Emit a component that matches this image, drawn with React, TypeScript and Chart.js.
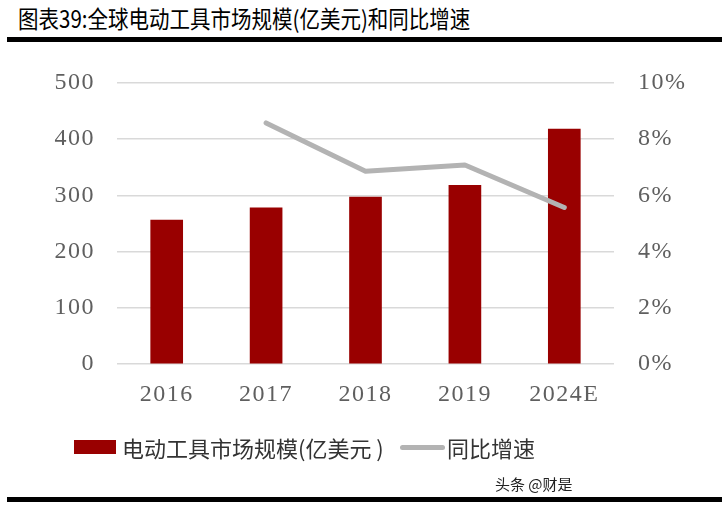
import React, { useEffect, useRef } from "react";
import { Chart, registerables } from "chart.js";

Chart.register(...registerables);

const categories = ["2016", "2017", "2018", "2019", "2024E"];
const marketSize = [256, 278, 297, 318, 418];
const yoyGrowth = [null, 8.58, 6.86, 7.08, 5.57];
const leftTicks = [0, 100, 200, 300, 400, 500];
const rightTicks = [0, 2, 4, 6, 8, 10];

const barLabel = "电动工具市场规模(亿美元 )";
const lineLabel = "同比增速";
const titleText = "图表39:全球电动工具市场规模(亿美元)和同比增速";
const watermark = "头条 @财是";

const W = 722;
const H = 505;
const AREA_L = 117;
const AREA_R = 614;
const AREA_T = 83;
const AREA_B = 364;

const spacingPlugin = {
  id: "tickSpacing",
  beforeDraw(chart: any) {
    try { chart.ctx.letterSpacing = "1.5px"; } catch (e) {}
  },
  afterDraw(chart: any) {
    try { chart.ctx.letterSpacing = "0px"; } catch (e) {}
  },
};

export default function App() {
  const ref = useRef<HTMLCanvasElement>(null);

  useEffect(() => {
    if (!ref.current) return;
    const tickFont = { family: "'Liberation Serif', 'Times New Roman', serif", size: 24 };
    const chart = new Chart(ref.current, {
      data: {
        labels: categories,
        datasets: [
          {
            type: "line",
            label: lineLabel,
            data: yoyGrowth,
            yAxisID: "y1",
            borderColor: "#b3b3b3",
            backgroundColor: "#b3b3b3",
            borderWidth: 5,
            pointRadius: 0,
            borderCapStyle: "round",
            borderJoinStyle: "round",
            spanGaps: false,
            tension: 0,
            order: 0,
          },
          {
            type: "bar",
            label: barLabel,
            data: marketSize,
            yAxisID: "y",
            backgroundColor: "#990000",
            barThickness: 32,
            order: 1,
          },
        ],
      } as any,
      options: {
        responsive: false,
        animation: false,
        layout: { padding: { top: AREA_T, bottom: 0, left: 0, right: 0 } },
        plugins: { legend: { display: false }, tooltip: { enabled: false } },
        scales: {
          x: {
            grid: { display: false, drawTicks: false },
            border: { display: false },
            ticks: { color: "#5f5f5f", font: tickFont, padding: 16 },
            afterFit: (s: any) => { s.height = H - AREA_B; },
          },
          y: {
            position: "left",
            min: 0,
            max: 500,
            afterBuildTicks: (s: any) => { s.ticks = leftTicks.map((v) => ({ value: v })); },
            grid: { color: "#d9d9d9", lineWidth: 1.5, drawTicks: false },
            border: { display: false },
            ticks: { color: "#5f5f5f", font: tickFont, padding: 22 },
            afterFit: (s: any) => { s.width = AREA_L; },
          },
          y1: {
            position: "right",
            min: 0,
            max: 10,
            afterBuildTicks: (s: any) => { s.ticks = rightTicks.map((v) => ({ value: v })); },
            grid: { display: false, drawTicks: false },
            border: { display: false },
            ticks: { color: "#5f5f5f", font: tickFont, padding: 24, callback: (v: any) => v + "%" },
            afterFit: (s: any) => { s.width = W - AREA_R; },
          },
        },
      } as any,
      plugins: [spacingPlugin],
    });
    return () => chart.destroy();
  }, []);

  const cjk = "'Noto Sans CJK SC', 'Noto Sans', sans-serif";
  return (
    <div style={{ position: "absolute", left: 0, top: 0, width: W, height: H, background: "#fff", overflow: "hidden" }}>
      <div
        style={{
          position: "absolute", left: 18, top: 5, fontFamily: cjk, fontSize: 20.5, lineHeight: "22px",
          color: "#000", whiteSpace: "nowrap", transform: "scaleY(1.15)", transformOrigin: "left top",
        }}
      >
        {titleText}
      </div>
      <div style={{ position: "absolute", left: 7, top: 37, width: W - 7, height: 5, background: "#000" }} />
      <canvas ref={ref} width={W} height={H} style={{ position: "absolute", left: 0, top: 0 }} />
      <div style={{ position: "absolute", left: 74, top: 440, width: 42, height: 14, background: "#990000" }} />
      <div style={{ position: "absolute", left: 122, top: 434, fontFamily: cjk, fontSize: 22, lineHeight: "26px", color: "#333", whiteSpace: "nowrap" }}>
        {barLabel}
      </div>
      <div style={{ position: "absolute", left: 400, top: 445, width: 45, height: 5, borderRadius: 3, background: "#b3b3b3" }} />
      <div style={{ position: "absolute", left: 447, top: 434, fontFamily: cjk, fontSize: 22, lineHeight: "26px", color: "#333", whiteSpace: "nowrap" }}>
        {lineLabel}
      </div>
      <div style={{ position: "absolute", left: 495, top: 475, fontFamily: cjk, fontSize: 15, lineHeight: "18px", color: "#222", whiteSpace: "nowrap" }}>
        {watermark}
      </div>
      <div style={{ position: "absolute", left: 7, top: 497, width: W - 7, height: 5, background: "#000" }} />
    </div>
  );
}
